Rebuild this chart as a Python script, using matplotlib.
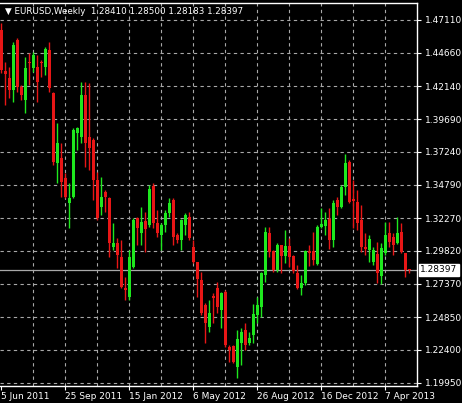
import numpy as np
import pandas as pd
import matplotlib
matplotlib.use("Agg")
import matplotlib.pyplot as plt

# EURUSD weekly candles, first bar = week of 5 Jun 2011
opens = [1.4637, 1.4330, 1.4278, 1.4188, 1.4562, 1.4210, 1.4113, 1.4397, 1.4352, 1.4360,
         1.4397, 1.4360, 1.4487, 1.4165, 1.3642, 1.3679, 1.3530, 1.3343, 1.3388, 1.3866,
         1.3836, 1.4150, 1.3836, 1.3814, 1.3515, 1.3313, 1.3425, 1.3380, 1.3013, 1.3043,
         1.2938, 1.2707, 1.2640, 1.2864, 1.3231, 1.3118, 1.3208, 1.3178, 1.3470, 1.3193,
         1.3103, 1.3178, 1.3268, 1.3365, 1.3103, 1.3066, 1.3178, 1.3238, 1.3013, 1.2901,
         1.2767, 1.2579, 1.2415, 1.2647, 1.2707, 1.2542, 1.2677, 1.2265, 1.2273, 1.2116,
         1.2295, 1.2392, 1.2295, 1.2355, 1.2505, 1.2565, 1.2804, 1.3118, 1.2983, 1.2841,
         1.3028, 1.2946, 1.3021, 1.2946, 1.2819, 1.2707, 1.2744, 1.2983, 1.2983, 1.2886,
         1.3163, 1.3171, 1.3223, 1.3066, 1.3365, 1.3313, 1.3462, 1.3649, 1.3372, 1.3350,
         1.3216, 1.3013, 1.2991, 1.2901, 1.2961, 1.2797, 1.2968, 1.3118, 1.3088, 1.3043,
         1.3126, 1.2968, 1.28410]
highs = [1.4689, 1.4397, 1.4360, 1.4547, 1.4577, 1.4225, 1.4435, 1.4465, 1.4472, 1.4450,
         1.4412, 1.4510, 1.4547, 1.4173, 1.3941, 1.3791, 1.3567, 1.3492, 1.3904, 1.3911,
         1.4248, 1.4248, 1.4240, 1.3829, 1.3574, 1.3537, 1.3440, 1.3388, 1.3193, 1.3081,
         1.3066, 1.2789, 1.2991, 1.3231, 1.3238, 1.3313, 1.3275, 1.3477, 1.3492, 1.3290,
         1.3193, 1.3290, 1.3380, 1.3380, 1.3118, 1.3223, 1.3268, 1.3275, 1.3066, 1.2901,
         1.2826, 1.2594, 1.2617, 1.2669, 1.2752, 1.2677, 1.2692, 1.2280, 1.2280, 1.2392,
         1.2407, 1.2445, 1.2377, 1.2587, 1.2640, 1.2826, 1.3163, 1.3163, 1.2991, 1.3043,
         1.3028, 1.3141, 1.3081, 1.2953, 1.2879, 1.2804, 1.2991, 1.3028, 1.3126, 1.3178,
         1.3305, 1.3275, 1.3305, 1.3365, 1.3388, 1.3477, 1.3709, 1.3664, 1.3515, 1.3440,
         1.3328, 1.3118, 1.3103, 1.3013, 1.3051, 1.3043, 1.3201, 1.3201, 1.3118, 1.3238,
         1.3193, 1.2968, 1.28500]
lows = [1.4315, 1.4075, 1.4128, 1.4098, 1.4173, 1.4113, 1.4016, 1.4225, 1.4322, 1.4098,
        1.4285, 1.4300, 1.4173, 1.3627, 1.3492, 1.3388, 1.3380, 1.3156, 1.3380, 1.3739,
        1.3791, 1.3612, 1.3589, 1.3365, 1.3216, 1.3253, 1.3275, 1.2938, 1.2991, 1.2856,
        1.2707, 1.2617, 1.2617, 1.2856, 1.3028, 1.3028, 1.2976, 1.3163, 1.3156, 1.3088,
        1.2991, 1.3126, 1.3238, 1.3028, 1.3043, 1.2991, 1.3103, 1.3066, 1.2894, 1.2640,
        1.2505, 1.2295, 1.2378, 1.2445, 1.2520, 1.2407, 1.2265, 1.2153, 1.2146, 1.2033,
        1.2131, 1.2243, 1.2280, 1.2295, 1.2445, 1.2490, 1.2752, 1.2938, 1.2826, 1.2826,
        1.2819, 1.2894, 1.2864, 1.2819, 1.2700, 1.2655, 1.2729, 1.2871, 1.2879, 1.2879,
        1.3156, 1.3103, 1.2998, 1.3013, 1.3253, 1.3305, 1.3402, 1.3343, 1.3156, 1.3141,
        1.2976, 1.2953, 1.2901, 1.2879, 1.2744, 1.2737, 1.2953, 1.3013, 1.2953, 1.3036,
        1.2968, 1.2789, 1.28183]
closes = [1.4337, 1.4307, 1.4188, 1.4524, 1.4210, 1.4150, 1.4352, 1.4390, 1.4450, 1.4248,
          1.4390, 1.4495, 1.4203, 1.3649, 1.3791, 1.3500, 1.3388, 1.3380, 1.3889, 1.3904,
          1.4150, 1.3791, 1.3754, 1.3515, 1.3231, 1.3388, 1.3388, 1.3043, 1.3043, 1.2953,
          1.2714, 1.2692, 1.2938, 1.3216, 1.3156, 1.3201, 1.3148, 1.3447, 1.3193, 1.3118,
          1.3178, 1.3268, 1.3343, 1.3088, 1.3066, 1.3216, 1.3253, 1.3081, 1.2901, 1.2774,
          1.2520, 1.2445, 1.2520, 1.2632, 1.2565, 1.2669, 1.2280, 1.2243, 1.2153, 1.2325,
          1.2377, 1.2280, 1.2332, 1.2512, 1.2579, 1.2819, 1.3126, 1.2976, 1.2841, 1.3028,
          1.2946, 1.3021, 1.2938, 1.2834, 1.2707, 1.2744, 1.2983, 1.2968, 1.2916, 1.3163,
          1.3186, 1.3216, 1.3066, 1.3343, 1.3313, 1.3462, 1.3642, 1.3350, 1.3357, 1.3193,
          1.3013, 1.2998, 1.3073, 1.2991, 1.2819, 1.3006, 1.3103, 1.3051, 1.3028, 1.3118,
          1.2976, 1.2841, 1.28397]

price_ticks = [1.47110, 1.44660, 1.42140, 1.39690, 1.37240, 1.34790,
               1.32270, 1.29820, 1.27370, 1.24850, 1.22400, 1.19950]
date_labels = ["5 Jun 2011", "25 Sep 2011", "15 Jan 2012", "6 May 2012",
               "26 Aug 2012", "16 Dec 2012", "7 Apr 2013"]

o = np.array(opens)
h = np.array(highs)
l = np.array(lows)
c = np.array(closes)
x = np.arange(len(o))
dates = pd.date_range("2011-06-05", periods=len(o), freq="7D")

W, H = 462, 403
fig = plt.figure(figsize=(W / 100, H / 100), dpi=100, facecolor="black")
ax = fig.add_axes([0 / W, 17 / H, 417 / W, 383 / H])
ax.set_facecolor("black")

ax.set_xlim(-0.325, 103.9)
ax.set_ylim(1.19703, 1.48383)

# grid
grid_kw = dict(color="#a8a8a8", linewidth=0.8, linestyle=(0, (3, 3)), zorder=1)
for p in price_ticks:
    ax.axhline(p, **grid_kw)
for b in range(8, len(o), 8):
    ax.axvline(b, **grid_kw)

# last price line
ax.axhline(c[-1], color="#a8a8a8", linewidth=0.9, zorder=2)

# candles
up = c >= o
colors = np.where(up, "#1ee81e", "#e81616")
ax.vlines(x, l, h, colors=colors, linewidth=1, zorder=3)
ax.bar(x, np.maximum(np.abs(c - o), 0.0008), bottom=np.minimum(o, c),
       width=0.7, color=colors, linewidth=0, zorder=4)

# axes / ticks
ax.yaxis.tick_right()
ax.set_yticks(price_ticks)
ax.set_yticklabels([f"{p:.5f}" for p in price_ticks])
tick_pos = [int(np.where(dates == pd.Timestamp(d))[0][0]) for d in date_labels]
ax.set_xticks(tick_pos)
ax.set_xticklabels(date_labels, ha="left")
ax.tick_params(axis="y", colors="white", labelsize=6.5, length=3, width=0.8, pad=3)
ax.tick_params(axis="x", colors="white", labelsize=6.5, length=3, width=0.8, pad=1)

for side in ["top", "right", "bottom"]:
    ax.spines[side].set_color("white")
    ax.spines[side].set_linewidth(1)
ax.spines["left"].set_visible(False)

ax.text(1.008, c[-1], f"{c[-1]:.5f}", transform=ax.get_yaxis_transform(),
        color="black", fontsize=6.5, va="center", ha="left",
        bbox=dict(facecolor="white", edgecolor="white", pad=1.2))

fig.text(5 / W, 1 - 12 / H,
         "\u25bc EURUSD,Weekly  1.28410 1.28500 1.28183 1.28397",
         color="white", fontsize=6.3, va="center", ha="left")

fig.savefig("out.png", dpi=100, facecolor="black")
